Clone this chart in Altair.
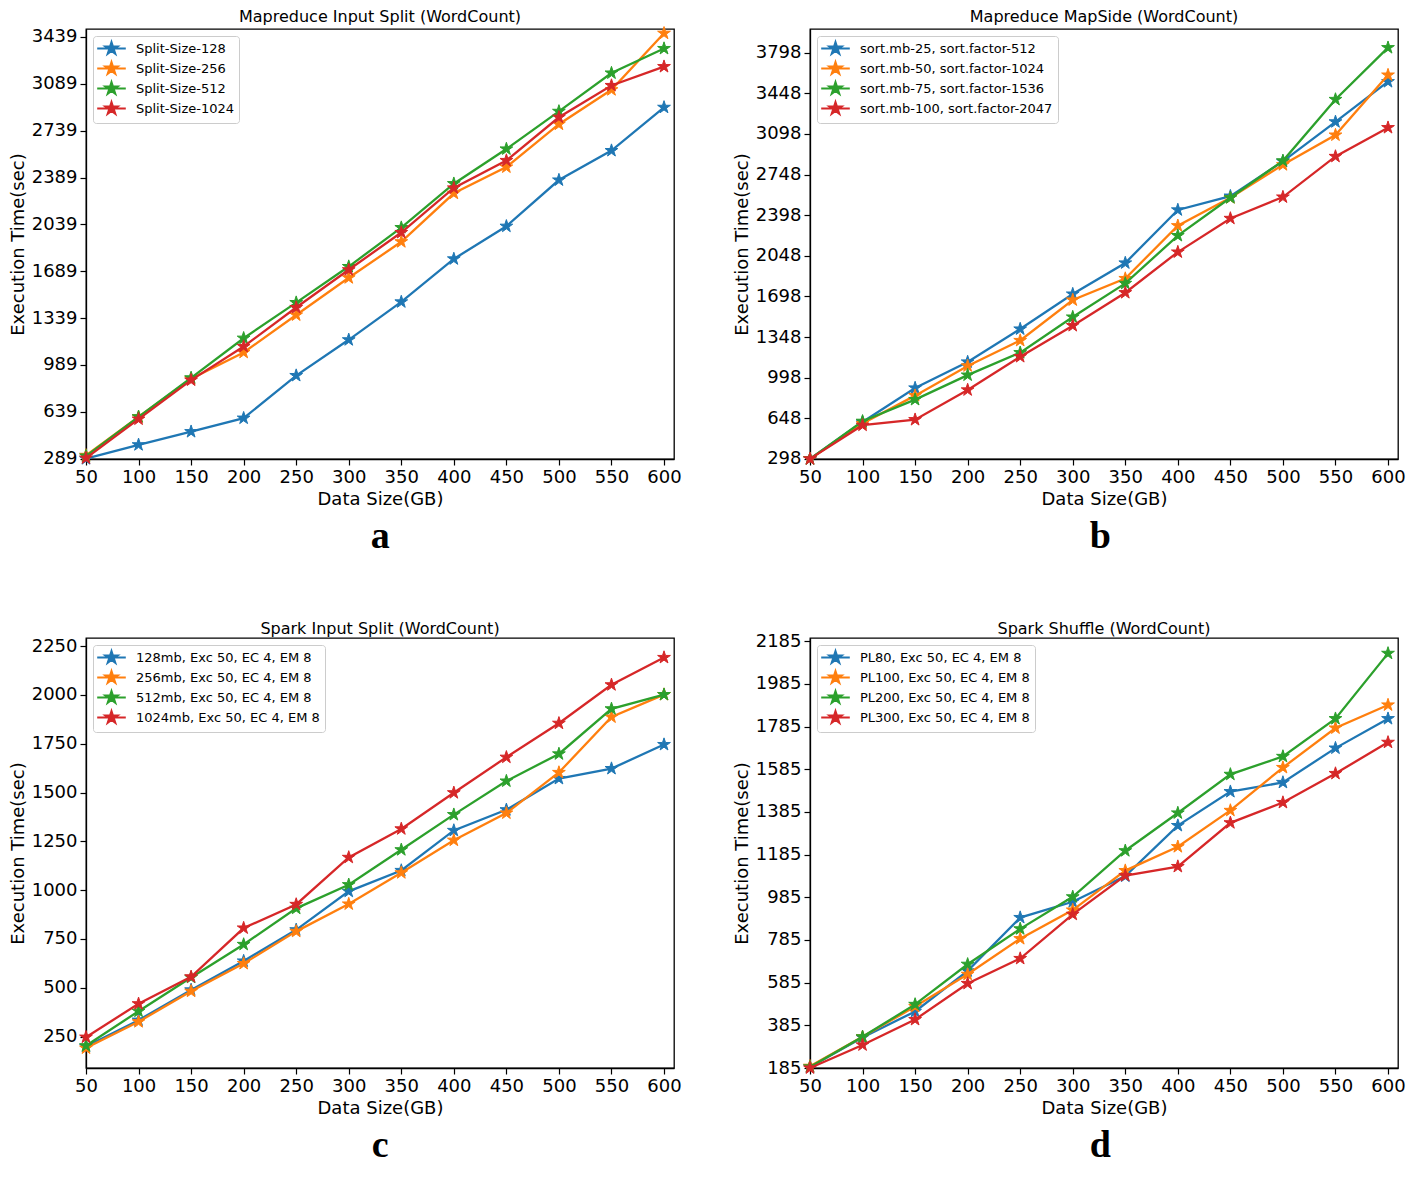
import altair as alt
import pandas as pd

x_vals = [50, 100, 150, 200, 250, 300, 350, 400, 450, 500, 550, 600]

a_title = "Mapreduce Input Split (WordCount)"
a_labels = ["Split-Size-128", "Split-Size-256", "Split-Size-512", "Split-Size-1024"]
a_128 = [289, 393, 491, 592, 910, 1177, 1460, 1781, 2025, 2370, 2590, 2913]
a_256 = [314, 602, 886, 1083, 1362, 1640, 1909, 2271, 2467, 2787, 3044, 3466]
a_512 = [309, 602, 893, 1189, 1455, 1724, 2015, 2343, 2602, 2883, 3169, 3352]
a_1024 = [294, 585, 876, 1127, 1418, 1700, 1978, 2311, 2516, 2839, 3076, 3217]
a_ticks = [289, 639, 989, 1339, 1689, 2039, 2389, 2739, 3089, 3439]
a_domain = [287, 3498]

b_title = "Mapreduce MapSide (WordCount)"
b_labels = ["sort.mb-25, sort.factor-512", "sort.mb-50, sort.factor-1024",
            "sort.mb-75, sort.factor-1536", "sort.mb-100, sort.factor-2047"]
b_25 = [298, 616, 909, 1133, 1417, 1718, 1986, 2443, 2562, 2861, 3202, 3548]
b_50 = [298, 602, 843, 1099, 1318, 1667, 1852, 2307, 2548, 2832, 3088, 3605]
b_75 = [298, 622, 809, 1020, 1213, 1520, 1810, 2222, 2548, 2866, 3395, 3841]
b_100 = [298, 588, 636, 892, 1179, 1446, 1730, 2080, 2370, 2554, 2904, 3152]
b_ticks = [298, 648, 998, 1348, 1698, 2048, 2398, 2748, 3098, 3448, 3798]
b_domain = [297, 4002]

c_title = "Spark Input Split (WordCount)"
c_labels = ["128mb, Exc 50, EC 4, EM 8", "256mb, Exc 50, EC 4, EM 8",
            "512mb, Exc 50, EC 4, EM 8", "1024mb, Exc 50, EC 4, EM 8"]
c_128 = [199, 334, 489, 637, 797, 994, 1101, 1306, 1412, 1572, 1623, 1746]
c_256 = [191, 326, 482, 624, 789, 929, 1089, 1256, 1395, 1603, 1887, 2002]
c_512 = [203, 380, 553, 722, 907, 1028, 1207, 1387, 1559, 1698, 1929, 2002]
c_1024 = [247, 418, 556, 806, 927, 1168, 1314, 1499, 1681, 1855, 2052, 2192]
c_ticks = [250, 500, 750, 1000, 1250, 1500, 1750, 2000, 2250]
c_domain = [89, 2292]

d_title = "Spark Shuffle (WordCount)"
d_labels = ["PL80, Exc 50, EC 4, EM 8", "PL100, Exc 50, EC 4, EM 8",
            "PL200, Exc 50, EC 4, EM 8", "PL300, Exc 50, EC 4, EM 8"]
d_80 = [190, 328, 450, 640, 890, 964, 1084, 1321, 1480, 1523, 1684, 1822]
d_100 = [193, 331, 473, 624, 791, 925, 1110, 1222, 1392, 1593, 1778, 1886]
d_200 = [190, 331, 483, 671, 837, 987, 1203, 1380, 1561, 1645, 1822, 2128]
d_300 = [185, 293, 412, 581, 698, 905, 1087, 1129, 1334, 1429, 1565, 1711]
d_ticks = [185, 385, 585, 785, 985, 1185, 1385, 1585, 1785, 1985, 2185]
d_domain = [185, 2200]

colors = ["#1f77b4", "#ff7f0e", "#2ca02c", "#d62728"]
x_domain = [50, 609.5]

STAR = ("M0,-1L0.2245,-0.309L0.951,-0.309L0.363,0.118L0.588,0.809L0,0.382"
        "L-0.588,0.809L-0.363,0.118L-0.951,-0.309L-0.2245,-0.309Z")
LEG_SYM = "M-2.2,0L2.2,0" + STAR

W, H = 588, 430
LABEL_HALF = 12.0
BASE_OFFSET = 4


def panel(title, labels, series, ydom, yticks, letter, dx):
    rows = []
    for lab, vals in zip(labels, series):
        for xv, yv in zip(x_vals, vals):
            rows.append({"size": xv, "time": yv, "series": lab})
    df = pd.DataFrame(rows)
    # top tick label overhang above the plot pushes the title up; compensate
    gap_px = (ydom[1] - yticks[-1]) / (ydom[1] - ydom[0]) * H
    overhang = max(0.0, LABEL_HALF - gap_px)
    toff = BASE_OFFSET - overhang

    xenc = alt.X("size:Q", scale=alt.Scale(domain=x_domain, nice=False, zero=False),
                 axis=alt.Axis(values=x_vals, title="Data Size(GB)", format="d"))
    yenc = alt.Y("time:Q", scale=alt.Scale(domain=ydom, nice=False, zero=False),
                 axis=alt.Axis(values=yticks, title="Execution Time(sec)", format="d"))
    sc = alt.Scale(domain=labels, range=colors)
    leg = alt.Legend(title=None, orient="top-left", offset=7, symbolType=LEG_SYM,
                     symbolSize=169, symbolStrokeWidth=2, symbolFillColor="white",
                     symbolOffset=6, labelOffset=17, labelFont="DejaVu Sans",
                     labelFontSize=13, labelColor="black", labelLimit=400,
                     fillColor="white", strokeColor="#cccccc", cornerRadius=3,
                     padding=5, rowPadding=0)
    layers = []
    for lab in labels:
        base = alt.Chart(df).transform_filter(alt.datum.series == lab)
        line = base.mark_line(strokeWidth=2.3).encode(
            x=xenc, y=yenc, stroke=alt.Stroke("series:N", scale=sc, legend=leg))
        pts = base.mark_point(shape=STAR, size=180, filled=True, strokeWidth=1,
                              opacity=1).encode(
            x=xenc, y=yenc,
            fill=alt.Fill("series:N", scale=sc, legend=leg),
            stroke=alt.Stroke("series:N", scale=sc, legend=leg))
        layers += [line, pts]
    p = alt.layer(*layers).properties(
        width=W, height=H,
        title=alt.Title(title, font="DejaVu Sans", fontSize=16, fontWeight="normal",
                        color="black", anchor="middle", frame="group", offset=toff))
    return alt.vconcat(p, title=alt.Title(letter, orient="bottom", anchor="middle",
                                          font="Liberation Serif", fontWeight="bold",
                                          fontSize=38, color="black", dx=dx, offset=9)
                       ).resolve_scale(fill="independent", stroke="independent"
                       ).resolve_legend(fill="independent", stroke="independent")


pa = panel(a_title, a_labels, [a_128, a_256, a_512, a_1024], a_domain, a_ticks, "a", 35)
pb = panel(b_title, b_labels, [b_25, b_50, b_75, b_100], b_domain, b_ticks, "b", 31)
pc = panel(c_title, c_labels, [c_128, c_256, c_512, c_1024], c_domain, c_ticks, "c", 35)
pd_ = panel(d_title, d_labels, [d_80, d_100, d_200, d_300], d_domain, d_ticks, "d", 31)


def row(l, r):
    return alt.hconcat(l, r, spacing=50).resolve_scale(
        fill="independent", stroke="independent").resolve_legend(
        fill="independent", stroke="independent")


chart = alt.vconcat(row(pa, pb), row(pc, pd_), spacing=64).resolve_scale(
    fill="independent", stroke="independent").resolve_legend(
    fill="independent", stroke="independent"
).properties(padding=0).configure_view(
    stroke="black", strokeWidth=1.3
).configure_axis(
    grid=False, domainColor="black", domainWidth=1.3, tickColor="black", tickWidth=1.2,
    tickSize=6, labelFont="DejaVu Sans", labelFontSize=18, labelColor="black",
    labelPadding=3, labelFlush=False, titleFont="DejaVu Sans", titleFontSize=18,
    titleFontWeight="normal", titleColor="black", titlePadding=4
)

chart.save("out.html", embed_options={"renderer": "svg", "actions": False})
